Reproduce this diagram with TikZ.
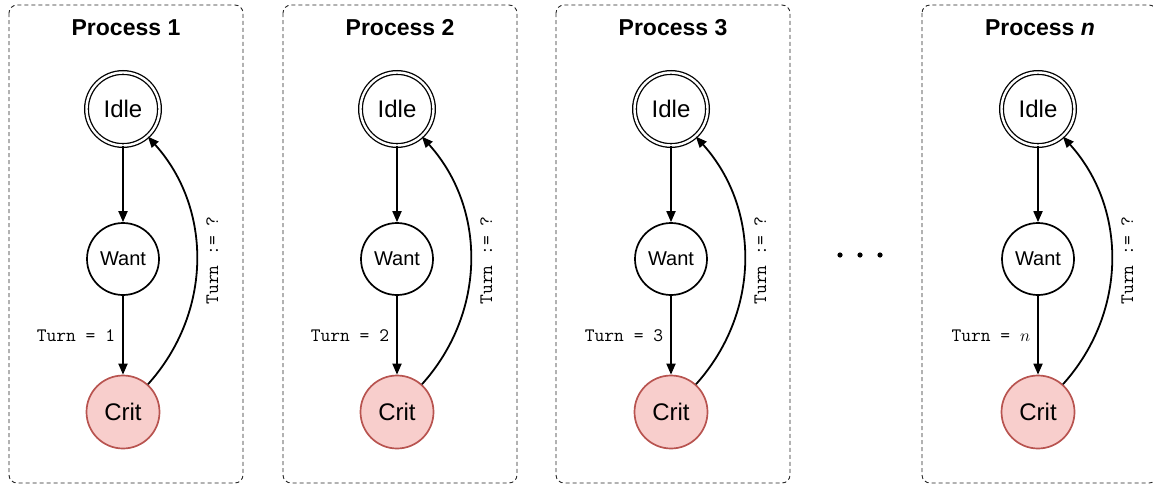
\documentclass[tikz,border=0pt]{standalone}
\usepackage{fontspec}
\setmainfont{Liberation Sans}
\usetikzlibrary{positioning}
\usetikzlibrary{arrows.meta}
\definecolor{critfill}{HTML}{F8CECC}
\definecolor{critdraw}{HTML}{B85450}
\tikzset{
    idlenode/.style = {circle, draw=black, double, double distance=2.4pt, line width=1.3pt, minimum size=73pt, inner sep=0pt, align=center, font=\fontsize{24}{28}\selectfont, text=black},
    wantnode/.style = {circle, line width=1.7pt, draw=black, fill=white, minimum size=72pt, inner sep=0pt, align=center, font=\fontsize{20}{24}\selectfont, text=black},
    critnode/.style = {circle, line width=1.7pt, draw=critdraw, fill=critfill, minimum size=73pt, inner sep=0pt, align=center, font=\fontsize{24}{28}\selectfont, text=black},
    edgen/.style = {-{Triangle[length=11pt,width=9pt]}, line width=1.8pt, black},
    edgeback/.style = {edgen, bend right=42}, % back to idle
    procbox/.style = {draw=black!85, dash pattern=on 4pt off 3pt, line width=0.9pt, rounded corners=8pt},
    proctitle/.style = {font=\fontsize{23}{27}\selectfont\bfseries},
    turnlabel/.style = {font=\fontsize{19}{22}\selectfont\ttfamily, inner sep=2pt},
}

\begin{document}
\begin{tikzpicture}[x=1pt, y=-1pt]
  \useasboundingbox (0,0) rectangle (1153,485);

  % process 1
  \draw[procbox] (9,5) rectangle (243,483);
  \node[proctitle] (t1) at (126,28) {Process 1};
  \node[idlenode] (idle1) at (123,109) {Idle};
  \node[wantnode] (want1) at (123,259) {Want};
  \node[critnode] (crit1) at (123,412) {Crit};
  \draw[edgen] (idle1) -- (want1);
  \draw[edgen] (want1) -- node[turnlabel, left=5pt] (g1) {Turn = 1} (crit1);
  \draw[edgeback] (crit1) to node[turnlabel, rotate=90, anchor=north, yshift=-7pt] (b1) {Turn := ?} (idle1);

  % process 2
  \draw[procbox] (283,5) rectangle (517,483);
  \node[proctitle] (t2) at (400,28) {Process 2};
  \node[idlenode] (idle2) at (397,109) {Idle};
  \node[wantnode] (want2) at (397,259) {Want};
  \node[critnode] (crit2) at (397,412) {Crit};
  \draw[edgen] (idle2) -- (want2);
  \draw[edgen] (want2) -- node[turnlabel, left=5pt] (g2) {Turn = 2} (crit2);
  \draw[edgeback] (crit2) to node[turnlabel, rotate=90, anchor=north, yshift=-7pt] (b2) {Turn := ?} (idle2);

  % process 3
  \draw[procbox] (556,5) rectangle (790,483);
  \node[proctitle] (t3) at (673,28) {Process 3};
  \node[idlenode] (idle3) at (671,109) {Idle};
  \node[wantnode] (want3) at (671,259) {Want};
  \node[critnode] (crit3) at (671,412) {Crit};
  \draw[edgen] (idle3) -- (want3);
  \draw[edgen] (want3) -- node[turnlabel, left=5pt] (g3) {Turn = 3} (crit3);
  \draw[edgeback] (crit3) to node[turnlabel, rotate=90, anchor=north, yshift=-7pt] (b3) {Turn := ?} (idle3);

  % dots
  \fill (840,255) circle (2.6);
  \fill (860,255) circle (2.6);
  \fill (880,255) circle (2.6);

  % process n
  \draw[procbox] (922,5) rectangle (1157,483);
  \node[proctitle] (t4) at (1040,28) {Process \textit{n}};
  \node[idlenode] (idle4) at (1038,109) {Idle};
  \node[wantnode] (want4) at (1038,259) {Want};
  \node[critnode] (crit4) at (1038,412) {Crit};
  \draw[edgen] (idle4) -- (want4);
  \draw[edgen] (want4) -- node[turnlabel, left=5pt] (g4) {Turn = $n$} (crit4);
  \draw[edgeback] (crit4) to node[turnlabel, rotate=90, anchor=north, yshift=-7pt] (b4) {Turn := ?} (idle4);

\end{tikzpicture}
\end{document}
